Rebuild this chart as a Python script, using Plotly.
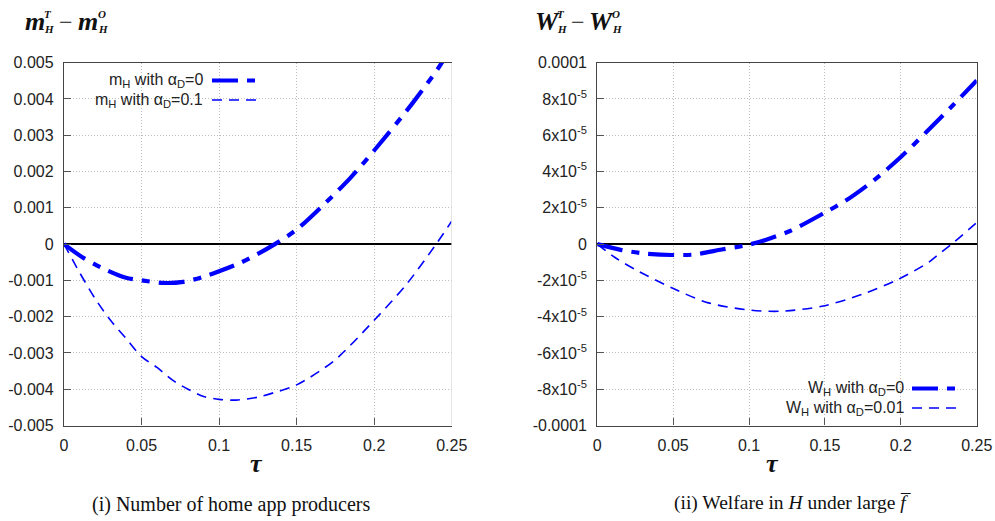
import plotly.graph_objects as go

W, H = 995, 521

# ---------------- data ----------------
tau_mA = [0, 0.0125, 0.0275, 0.04, 0.05, 0.064, 0.077, 0.09, 0.1, 0.1135, 0.125, 0.136, 0.15, 0.169, 0.185, 0.2, 0.225, 0.244, 0.25]
m_alpha0 = [0, -0.00038, -0.00072, -0.00093, -0.001, -0.00107, -0.00104, -0.0009, -0.00075, -0.00052, -0.00027, 0.0, 0.0004, 0.00115, 0.00184, 0.00258, 0.0039, 0.00503, 0.0056]

tau_mB = [0, 0.01, 0.02, 0.03, 0.04, 0.05, 0.06, 0.07, 0.08, 0.09, 0.1, 0.111, 0.125, 0.135, 0.15, 0.174, 0.2, 0.221, 0.24, 0.25]
m_alpha01 = [0, -0.00078, -0.0015, -0.0021, -0.0026, -0.0031, -0.0034, -0.00375, -0.004, -0.0042, -0.00428, -0.0043, -0.00422, -0.0041, -0.00388, -0.00322, -0.0021, -0.0011, 0.0, 0.00063]

tau_wA = [0, 0.016, 0.0314, 0.049, 0.0644, 0.082, 0.0995, 0.1118, 0.127, 0.15, 0.1643, 0.182, 0.2, 0.217, 0.2345, 0.25]
w_alpha0 = [0, -0.33e-5, -0.52e-5, -0.6e-5, -0.57e-5, -0.3e-5, -0.04e-5, 0.26e-5, 0.72e-5, 1.74e-5, 2.43e-5, 3.5e-5, 4.8e-5, 6.19e-5, 7.67e-5, 9.02e-5]

tau_wB = [0, 0.0117, 0.0248, 0.049, 0.0732, 0.1017, 0.1215, 0.1479, 0.1742, 0.1983, 0.2181, 0.2236, 0.2345, 0.25]
w_alpha001 = [0, -0.74e-5, -1.39e-5, -2.41e-5, -3.24e-5, -3.65e-5, -3.70e-5, -3.43e-5, -2.78e-5, -1.94e-5, -1.02e-5, -0.65e-5, 0.07e-5, 1.19e-5]

x_ticks = [0, 0.05, 0.1, 0.15, 0.2, 0.25]
x_ticktext = ["0", "0.05", "0.1", "0.15", "0.2", "0.25"]
m_ticks = [-0.005, -0.004, -0.003, -0.002, -0.001, 0, 0.001, 0.002, 0.003, 0.004, 0.005]
m_ticktext = ["-0.005", "-0.004", "-0.003", "-0.002", "-0.001", "0", "0.001", "0.002", "0.003", "0.004", "0.005"]
w_ticks = [-1e-4, -8e-5, -6e-5, -4e-5, -2e-5, 0, 2e-5, 4e-5, 6e-5, 8e-5, 1e-4]
w_ticktext = ["-0.0001", "-8x10<sup>-5</sup>", "-6x10<sup>-5</sup>", "-4x10<sup>-5</sup>", "-2x10<sup>-5</sup>", "0",
              "2x10<sup>-5</sup>", "4x10<sup>-5</sup>", "6x10<sup>-5</sup>", "8x10<sup>-5</sup>", "0.0001"]

legend_left = ["m<sub>H</sub> with α<sub>D</sub>=0", "m<sub>H</sub> with α<sub>D</sub>=0.1"]
legend_right = ["W<sub>H</sub> with α<sub>D</sub>=0", "W<sub>H</sub> with α<sub>D</sub>=0.01"]
caption_left = "(i) Number of home app producers"
caption_right = "(ii) Welfare in <i>H</i> under large <i>f\u0305</i>"

# ---------------- styling ----------------
BLUE = "#0000ff"
THICK_DASH = "26px,9px,8px,9px"
THIN_DASH = "10px,7px"
SANS = "Liberation Sans"
SERIF = "Liberation Serif"


def px(x):
    return x / W


def py(y):
    return 1 - y / H


fig = go.Figure()

fig.add_trace(go.Scatter(x=tau_mA, y=m_alpha0, mode="lines", xaxis="x", yaxis="y",
                         line=dict(color=BLUE, width=4.2, dash=THICK_DASH, shape="spline", smoothing=0.8),
                         showlegend=False, name="mH with αD=0"))
fig.add_trace(go.Scatter(x=tau_mB, y=m_alpha01, mode="lines", xaxis="x", yaxis="y",
                         line=dict(color=BLUE, width=1.6, dash=THIN_DASH, shape="spline", smoothing=0.8),
                         showlegend=False, name="mH with αD=0.1"))
fig.add_trace(go.Scatter(x=tau_wA, y=w_alpha0, mode="lines", xaxis="x2", yaxis="y2",
                         line=dict(color=BLUE, width=4.2, dash=THICK_DASH, shape="spline", smoothing=0.8),
                         showlegend=False, name="WH with αD=0"))
fig.add_trace(go.Scatter(x=tau_wB, y=w_alpha001, mode="lines", xaxis="x2", yaxis="y2",
                         line=dict(color=BLUE, width=1.6, dash=THIN_DASH, shape="spline", smoothing=0.8),
                         showlegend=False, name="WH with αD=0.01"))

tickfont = dict(family=SANS, size=16, color="#222")
GRID = dict(showgrid=True, gridcolor="#bdbdbd", griddash="1px,2px", gridwidth=1)
common_x = dict(range=[0, 0.25], tickvals=x_ticks, ticktext=x_ticktext, ticks="inside", ticklen=7,
                tickcolor="#555", tickwidth=1.2, showline=True, linecolor="#444", linewidth=1.3, mirror=True,
                zeroline=False, tickfont=tickfont, ticklabelstandoff=5, automargin=False, **GRID)
common_y = dict(ticks="inside", ticklen=7, tickcolor="#555", tickwidth=1.2, showline=True, linecolor="#444",
                linewidth=1.3, zeroline=True, zerolinecolor="#000", zerolinewidth=1.8, tickfont=tickfont,
                ticklabelstandoff=6, automargin=False, **GRID)

ydom = [py(425.5), py(62.7)]

fig.update_layout(
    width=W, height=H, margin=dict(l=0, r=0, t=0, b=0, autoexpand=False),
    paper_bgcolor="white", plot_bgcolor="white",
    xaxis=dict(domain=[px(64), px(451.7)], anchor="y", **common_x),
    yaxis=dict(domain=ydom, anchor="x", range=[-0.005, 0.005], tickvals=m_ticks, ticktext=m_ticktext,
               mirror=False, **common_y),
    xaxis2=dict(domain=[px(597.3), px(976.7)], anchor="y2", **common_x),
    yaxis2=dict(domain=ydom, anchor="x2", range=[-1e-4, 1e-4], tickvals=w_ticks, ticktext=w_ticktext,
                mirror=True, **common_y),
    showlegend=False,
)

shapes = []
# faint right border of the left panel
shapes.append(dict(type="line", xref="x", yref="y", x0=0.25, x1=0.25, y0=-0.005, y1=0.005,
                   line=dict(color="#dcdcdc", width=1.5), layer="above"))
# white legend box in the right panel
shapes.append(dict(type="rect", xref="paper", yref="paper", x0=px(766), x1=px(976), y0=py(423), y1=py(377),
                   fillcolor="white", line=dict(width=0), layer="between"))

annotations = []


def txt(x, y, text, size, family=SANS, xanchor="left", yanchor="middle", color="#111"):
    annotations.append(dict(x=px(x), y=py(y), xref="paper", yref="paper", text=text, showarrow=False,
                            xanchor=xanchor, yanchor=yanchor, borderpad=0,
                            font=dict(family=family, size=size, color=color)))


# legends (text right-aligned, sample line on the right)
leg_font = 16
for (tx, ty, label, x0, x1, dash, wdt) in [
    (204, 80.5, legend_left[0], 212, 260, THICK_DASH, 4.2),
    (204, 100, legend_left[1], 212, 258, THIN_DASH, 1.6),
    (905, 388.5, legend_right[0], 912, 959, THICK_DASH, 4.2),
    (905, 408, legend_right[1], 912, 957, THIN_DASH, 1.6),
]:
    txt(tx, ty, label, leg_font, xanchor="right", color="#222")
    shapes.append(dict(type="line", xref="paper", yref="paper", x0=px(x0), x1=px(x1), y0=py(ty), y1=py(ty),
                       line=dict(color=BLUE, width=wdt, dash=dash), layer="above"))


# panel titles  m_H^T - m_H^O  and  W_H^T - W_H^O
def math_title(x0, letter, xs1, xminus, x2, xs2):
    txt(x0, 21, f"<b><i>{letter}</i></b>", 26, family=SERIF)
    txt(xs1, 21.2, "<b><i>T</i></b>", 11, family=SERIF, yanchor="bottom")
    txt(xs1, 21.8, "<b><i>H</i></b>", 11, family=SERIF, yanchor="top")
    txt(xminus, 22, "−", 24, family=SERIF)
    txt(x2, 21, f"<b><i>{letter}</i></b>", 26, family=SERIF)
    txt(xs2, 21.2, "<b><i>O</i></b>", 11, family=SERIF, yanchor="bottom")
    txt(xs2, 21.8, "<b><i>H</i></b>", 11, family=SERIF, yanchor="top")


math_title(24, "m", 43, 58, 77, 97)
math_title(534, "W", 556, 570, 588, 611)

# x-axis titles
txt(256.5, 463, "<b><i>τ</i></b>", 26, family=SERIF, xanchor="center")
txt(772, 463, "<b><i>τ</i></b>", 26, family=SERIF, xanchor="center")

# captions
txt(230.5, 504, caption_left, 20, family=SERIF, xanchor="center")
txt(792, 503, caption_right, 19.5, family=SERIF, xanchor="center")

fig.update_layout(shapes=shapes, annotations=annotations)

fig.write_html("out.html")
